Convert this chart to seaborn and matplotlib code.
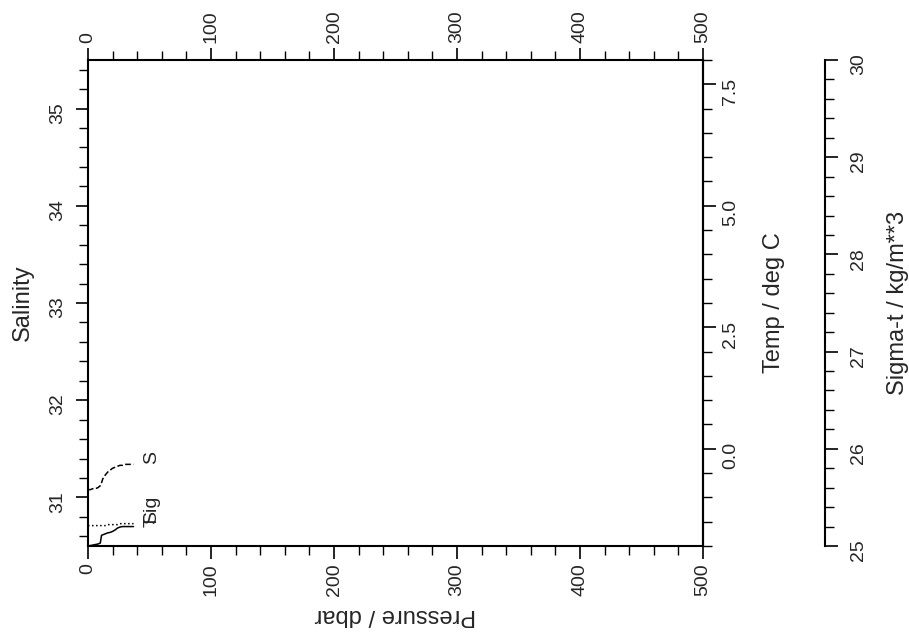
import matplotlib
matplotlib.use("Agg")
import pandas as pd
import matplotlib.pyplot as plt
import matplotlib.ticker as mticker
import seaborn as sns

# CTD profile (top 40 dbar)
pressure = [0, 2, 4, 6, 8, 10, 11, 12, 14, 16, 18, 20, 22, 24, 26, 28, 30, 33, 37]
salinity = [31.08, 31.08, 31.09, 31.09, 31.10, 31.12, 31.15, 31.19, 31.23, 31.26,
            31.28, 31.30, 31.31, 31.32, 31.33, 31.33, 31.34, 31.34, 31.34]
temperature = [-2.00, -1.99, -1.98, -1.97, -1.96, -1.94, -1.78, -1.77, -1.75, -1.73,
               -1.72, -1.70, -1.67, -1.63, -1.61, -1.60, -1.60, -1.60, -1.60]
sigma_t = [25.21, 25.21, 25.21, 25.21, 25.21, 25.21, 25.21, 25.21, 25.21, 25.22,
           25.22, 25.22, 25.22, 25.22, 25.23, 25.23, 25.23, 25.23, 25.23]

df = pd.DataFrame({"Pressure": pressure, "Salinity": salinity,
                   "Temp": temperature, "Sigma": sigma_t})

sns.set_style("ticks")
plt.rcParams['font.family'] = ['Liberation Sans', 'DejaVu Sans']

fig = plt.figure(figsize=(9.09, 6.36), dpi=100)
ax = fig.add_axes([0.0968, 0.1415, 0.6766, 0.7642])
ax_t = ax.twinx()
ax_sig = ax.twinx()

sns.lineplot(data=df, x="Pressure", y="Salinity", ax=ax, color="black",
             lw=1.1, linestyle="--", estimator=None)
sns.lineplot(data=df, x="Pressure", y="Temp", ax=ax_t, color="black",
             lw=1.1, linestyle="-", estimator=None)
sns.lineplot(data=df, x="Pressure", y="Sigma", ax=ax_sig, color="black",
             lw=1.1, linestyle=":", estimator=None)

ax.set_xlim(0, 500)
ax.set_ylim(30.5, 35.5)
ax_t.set_ylim(-2, 8)
ax_sig.set_ylim(25, 30)

# curve labels at the end of each profile
p_lab = pressure[-1] + 15
ax.text(p_lab, salinity[-1], "S", rotation=90, rotation_mode="anchor",
        ha="left", va="center", fontsize=14)
ax_sig.text(p_lab, sigma_t[-1], "Sig", rotation=90, rotation_mode="anchor",
            ha="left", va="center", fontsize=14)
ax_t.text(p_lab, temperature[-1], "T", rotation=90, rotation_mode="anchor",
          ha="left", va="center", fontsize=14)

# ticks
ax.xaxis.set_major_locator(mticker.MultipleLocator(100))
ax.xaxis.set_minor_locator(mticker.MultipleLocator(20))
ax.yaxis.set_major_locator(mticker.MultipleLocator(1))
ax.yaxis.set_minor_locator(mticker.MultipleLocator(0.2))
ax_t.yaxis.set_major_locator(mticker.MultipleLocator(2.5))
ax_t.yaxis.set_minor_locator(mticker.MultipleLocator(0.5))
ax_t.yaxis.set_major_formatter(mticker.FormatStrFormatter("%.1f"))
ax_sig.yaxis.set_major_locator(mticker.MultipleLocator(1))
ax_sig.yaxis.set_minor_locator(mticker.MultipleLocator(0.2))

for a in (ax, ax_t, ax_sig):
    a.tick_params(which="major", direction="out", length=9, width=1.2,
                  labelsize=14, labelrotation=90, color="black")
    a.tick_params(which="minor", direction="out", length=6.5, width=1.0, color="black")
    for s in a.spines.values():
        s.set_linewidth(1.5)
        s.set_color("black")

ax.tick_params(axis="x", which="both", top=True, labeltop=True,
               bottom=True, labelbottom=True)
ax.tick_params(axis="y", which="both", right=False)
ax.tick_params(axis="y", which="major", pad=6.5)
ax_t.tick_params(axis="y", which="major", pad=5)
ax_sig.tick_params(axis="y", which="major", pad=9.5)

for a in (ax_t, ax_sig):
    a.spines["left"].set_visible(False)
    a.spines["top"].set_visible(False)
    a.spines["bottom"].set_visible(False)
ax_sig.spines["right"].set_position(("axes", 1.198))

ax.set_xlabel("Pressure / dbar", rotation=180, fontsize=17, labelpad=6)
ax.set_ylabel("Salinity", fontsize=17, labelpad=11)
ax_t.set_ylabel("Temp / deg C", fontsize=17, labelpad=17)
ax_sig.set_ylabel("Sigma-t / kg/m**3", fontsize=17, labelpad=14)

fig.savefig("out.png", dpi=100)
